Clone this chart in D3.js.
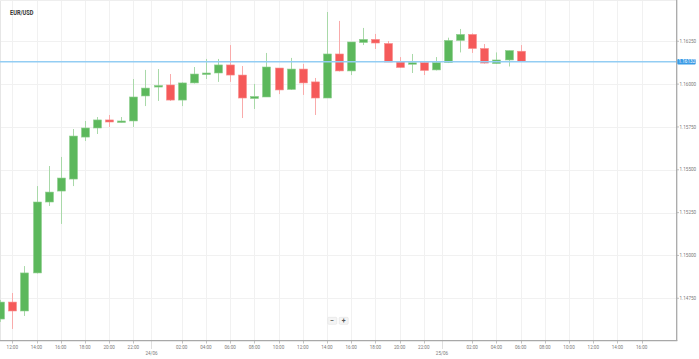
<!DOCTYPE html>
<html><head><meta charset="utf-8">
<script src="https://cdn.jsdelivr.net/npm/d3@7"></script>
<style>html,body{margin:0;padding:0;background:#fff;overflow:hidden}svg{display:block;font-family:Roboto,"Open Sans",sans-serif}</style>
</head><body><svg id="c" width="699" height="359"></svg>
<script>
const times = [
"2018-06-23T11:00","2018-06-23T12:00","2018-06-23T13:00","2018-06-23T14:00","2018-06-23T15:00","2018-06-23T16:00",
"2018-06-23T17:00","2018-06-23T18:00","2018-06-23T19:00","2018-06-23T20:00","2018-06-23T21:00","2018-06-23T22:00",
"2018-06-23T23:00","2018-06-24T00:00","2018-06-24T01:00","2018-06-24T02:00","2018-06-24T03:00","2018-06-24T04:00",
"2018-06-24T05:00","2018-06-24T06:00","2018-06-24T07:00","2018-06-24T08:00","2018-06-24T09:00","2018-06-24T10:00",
"2018-06-24T11:00","2018-06-24T12:00","2018-06-24T13:00","2018-06-24T14:00","2018-06-24T15:00","2018-06-24T16:00",
"2018-06-24T17:00","2018-06-24T18:00","2018-06-24T19:00","2018-06-24T20:00","2018-06-24T21:00","2018-06-24T22:00",
"2018-06-24T23:00","2018-06-25T00:00","2018-06-25T01:00","2018-06-25T02:00","2018-06-25T03:00","2018-06-25T04:00",
"2018-06-25T05:00","2018-06-25T06:00"];
const open  = [1.14629,1.14728,1.14676,1.14898,1.15312,1.15376,1.15446,1.15691,1.15744,1.15791,1.15776,1.15785,
  1.15931,1.15983,1.15995,1.15907,1.16007,1.16056,1.16065,1.16112,1.16053,1.15916,1.15925,1.16094,1.15969,1.16088,
  1.16013,1.15919,1.16176,1.16077,1.16243,1.16261,1.16237,1.16129,1.16116,1.16126,1.16083,1.16126,1.16255,1.16290,
  1.16208,1.16120,1.16141,1.16192];
const high  = [1.14740,1.14781,1.14938,1.15405,1.15522,1.15575,1.15738,1.15785,1.15808,1.15820,1.15808,1.16030,
  1.16083,1.16088,1.16059,1.16010,1.16100,1.16147,1.16147,1.16228,1.16106,1.16001,1.16182,1.16094,1.16153,1.16118,
  1.16036,1.16421,1.16369,1.16246,1.16328,1.16293,1.16252,1.16158,1.16176,1.16129,1.16158,1.16271,1.16322,1.16296,
  1.16234,1.16185,1.16196,1.16228];
const low   = [1.14612,1.14571,1.14647,1.14895,1.15289,1.15184,1.15405,1.15668,1.15709,1.15750,1.15776,1.15750,
  1.15872,1.15902,1.15902,1.15872,1.16004,1.16030,1.16013,1.16013,1.15802,1.15855,1.15925,1.15942,1.15966,1.15937,
  1.15820,1.15919,1.16074,1.16053,1.16228,1.16205,1.16129,1.16094,1.16065,1.16053,1.16080,1.16123,1.16185,1.16182,
  1.16120,1.16118,1.16103,1.16129];
const close = [1.14728,1.14676,1.14898,1.15312,1.15370,1.15452,1.15697,1.15744,1.15791,1.15779,1.15785,1.15925,
  1.15977,1.15992,1.15907,1.16007,1.16059,1.16065,1.16112,1.16053,1.15919,1.15928,1.16100,1.15966,1.16088,1.16007,
  1.15919,1.16176,1.16077,1.16246,1.16261,1.16240,1.16129,1.16097,1.16125,1.16080,1.16126,1.16255,1.16290,1.16208,
  1.16123,1.16141,1.16196,1.16131];
const yTicks = [1.1475, 1.15, 1.1525, 1.155, 1.1575, 1.16, 1.1625];
const yTickLabels = ["1.14750","1.15000","1.15250","1.15500","1.15750","1.16000","1.16250"];
const xTicks = [
"2018-06-23T12:00","2018-06-23T14:00","2018-06-23T16:00","2018-06-23T18:00","2018-06-23T20:00","2018-06-23T22:00",
"2018-06-24T02:00","2018-06-24T04:00","2018-06-24T06:00","2018-06-24T08:00","2018-06-24T10:00","2018-06-24T12:00",
"2018-06-24T14:00","2018-06-24T16:00","2018-06-24T18:00","2018-06-24T20:00","2018-06-24T22:00",
"2018-06-25T02:00","2018-06-25T04:00","2018-06-25T06:00","2018-06-25T08:00","2018-06-25T10:00","2018-06-25T12:00",
"2018-06-25T14:00","2018-06-25T16:00"];
const dayMarks = ["2018-06-23T23:30","2018-06-24T23:30"];
const dayLabels = ["24/06","25/06"];
const lastPrice = 1.16131;
const lastPriceLabel = "1.16132";
const title = "EUR/USD";

const parse = d3.timeParse("%Y-%m-%dT%H:%M");
const svg = d3.select("#c");
const plotR = 676.5, plotB = 340.5;
const x = d3.scaleTime().domain([parse("2018-06-23T12:00"), parse("2018-06-25T16:00")]).range([12.3, 641.7]);
const y = d3.scaleLinear().domain([1.1475, 1.1625]).range([298.3, 41.3]);

svg.append("defs").append("clipPath").attr("id","clip").append("rect")
  .attr("x",0).attr("y",0).attr("width",plotR).attr("height",plotB);

const grid = svg.append("g");
grid.selectAll(".hg").data(yTicks).enter().append("line")
  .attr("x1",0).attr("x2",plotR).attr("y1",d=>Math.round(y(d))+0.5).attr("y2",d=>Math.round(y(d))+0.5)
  .attr("stroke","#f1f1f1").attr("stroke-width",1);
grid.selectAll(".vg").data(xTicks.concat(dayMarks)).enter().append("line")
  .attr("x1",d=>Math.round(x(parse(d)))+0.5).attr("x2",d=>Math.round(x(parse(d)))+0.5)
  .attr("y1",0).attr("y2",plotB).attr("stroke","#f1f1f1").attr("stroke-width",1);

svg.append("line").attr("x1",0.5).attr("x2",0.5).attr("y1",0).attr("y2",plotB).attr("stroke","#e6e6e6");
svg.append("line").attr("x1",0).attr("x2",plotR).attr("y1",0.5).attr("y2",0.5).attr("stroke","#eeeeee");

const data = times.map((t,i)=>({t:parse(t),o:open[i],h:high[i],l:low[i],c:close[i]}));
const g = svg.append("g").attr("clip-path","url(#clip)");
const up = "#5cb85c", dn = "#f55a5a", upW = "#a9d9a9", dnW = "#f9abab";
g.selectAll(".wick").data(data).enter().append("line")
  .attr("x1",d=>Math.round(x(d.t))+0.5).attr("x2",d=>Math.round(x(d.t))+0.5)
  .attr("y1",d=>y(d.h)).attr("y2",d=>y(d.l))
  .attr("stroke",d=>d.c>=d.o?upW:dnW).attr("stroke-width",1);
g.selectAll(".body").data(data).enter().append("rect")
  .attr("x",d=>Math.round(x(d.t))-3.5).attr("width",8)
  .attr("y",d=>y(Math.max(d.o,d.c)))
  .attr("height",d=>Math.max(1.5, Math.abs(y(d.o)-y(d.c))))
  .attr("fill",d=>d.c>=d.o?up:dn)
  .attr("stroke",d=>d.c>=d.o?"#8fcf8f":"#f88e8e").attr("stroke-width",0.6);

svg.append("line").attr("x1",0).attr("x2",plotR).attr("y1",y(lastPrice)).attr("y2",y(lastPrice))
  .attr("stroke","#93cdf3").attr("stroke-width",1.5);

svg.append("line").attr("x1",plotR+0.2).attr("x2",plotR+0.2).attr("y1",0).attr("y2",plotB+0.5)
  .attr("stroke","#a8a8a8").attr("stroke-width",1.3);
svg.append("line").attr("x1",0).attr("x2",plotR+0.8).attr("y1",plotB+0.2).attr("y2",plotB+0.2)
  .attr("stroke","#a8a8a8").attr("stroke-width",1.3);

const yAx = svg.append("g");
yAx.selectAll("line").data(yTicks).enter().append("line")
  .attr("x1",plotR).attr("x2",plotR+2.5).attr("y1",d=>y(d)).attr("y2",d=>y(d)).attr("stroke","#a8a8a8").attr("stroke-width",0.7);
yAx.selectAll("text").data(yTicks).enter().append("text")
  .attr("x",679.5).attr("y",d=>y(d)).attr("dy","0.35em").attr("font-size",4.6).attr("fill","#7a7a7a")
  .text((d,i)=>yTickLabels[i]);

const py = y(lastPrice);
svg.append("rect").attr("x",677.3).attr("y",py-2.8).attr("width",18.4).attr("height",5.6).attr("rx",1)
  .attr("fill","#3a9be6");
svg.append("text").attr("x",678.5).attr("y",py).attr("dy","0.35em").attr("font-size",4.6).attr("fill","#fff")
  .text(lastPriceLabel);

const fmt = d3.timeFormat("%H:%M");
const xAx = svg.append("g");
xAx.selectAll("line").data(xTicks).enter().append("line")
  .attr("x1",d=>Math.round(x(parse(d)))+0.5).attr("x2",d=>Math.round(x(parse(d)))+0.5)
  .attr("y1",plotB).attr("y2",plotB+3).attr("stroke","#a8a8a8").attr("stroke-width",0.7);
xAx.selectAll("text").data(xTicks).enter().append("text")
  .attr("x",d=>x(parse(d))).attr("y",347.3).attr("dy","0.35em").attr("text-anchor","middle")
  .attr("font-size",4.6).attr("fill","#7a7a7a").text(d=>fmt(parse(d)));
const dm = svg.append("g");
dm.selectAll("line").data(dayMarks).enter().append("line")
  .attr("x1",d=>Math.round(x(parse(d)))+0.5).attr("x2",d=>Math.round(x(parse(d)))+0.5)
  .attr("y1",plotB).attr("y2",349).attr("stroke","#a8a8a8").attr("stroke-width",0.7).attr("stroke-dasharray","1,1");
dm.selectAll("text").data(dayMarks).enter().append("text")
  .attr("x",d=>x(parse(d))).attr("y",353.8).attr("dy","0.35em").attr("text-anchor","middle")
  .attr("font-size",4.6).attr("fill","#7a7a7a").text((d,i)=>dayLabels[i]);

const zb = svg.append("g");
[["−",327.8],["+",339.2]].forEach(([s,bx])=>{
  zb.append("rect").attr("x",bx).attr("y",317.3).attr("width",9).attr("height",7).attr("rx",1)
    .attr("fill","#f4f4f4").attr("stroke","#e2e2e2").attr("stroke-width",0.6);
  zb.append("text").attr("x",bx+4.5).attr("y",320.9).attr("dy","0.35em").attr("text-anchor","middle")
    .attr("font-size",7).attr("font-weight","bold").attr("fill","#555").text(s);
});

svg.append("text").attr("x",10).attr("y",15).attr("font-size",7.6).attr("font-weight","bold")
  .attr("fill","#333").attr("textLength",23.5).attr("lengthAdjust","spacingAndGlyphs").text(title);
</script></body></html>
